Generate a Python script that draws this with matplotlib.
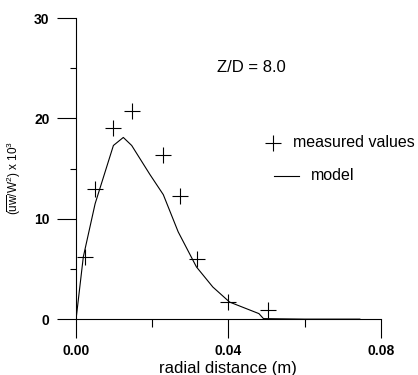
import matplotlib.pyplot as plt
import matplotlib.ticker as mticker

plt.rcParams['font.family'] = ['Liberation Sans', 'DejaVu Sans']
plt.rcParams['mathtext.fontset'] = 'custom'
plt.rcParams['mathtext.rm'] = 'Liberation Sans'
plt.rcParams['mathtext.it'] = 'Liberation Sans'

# measured values (radial distance in m, uw/W^2 x 10^3)
meas_r = [0.0024, 0.0050, 0.0098, 0.0148, 0.0229, 0.0272, 0.0318, 0.0399, 0.0503]
meas_v = [6.2, 13.0, 19.0, 20.7, 16.4, 12.3, 6.0, 1.7, 0.9]

# model curve
model_r = [0.0, 0.0019, 0.0050, 0.0098, 0.0124, 0.0146, 0.0194, 0.0229,
           0.0268, 0.0316, 0.0359, 0.0403, 0.0480, 0.0492, 0.0600, 0.0745]
model_v = [0.0, 6.2, 11.5, 17.3, 18.1, 17.3, 14.4, 12.4,
           8.7, 5.2, 3.2, 1.7, 0.55, 0.05, 0.0, 0.0]

x_ticks = [0.0, 0.04, 0.08]
x_labels = ['0.00', '0.04', '0.08']
y_ticks = [0, 10, 20, 30]

fig = plt.figure(figsize=(4.18, 3.75), dpi=100)
ax = fig.add_axes([0.182, 0.149, 0.729, 0.803])

ax.plot(model_r, model_v, color='black', lw=0.8)
ax.plot(meas_r, meas_v, ls='none', marker='+', color='black', ms=11, mew=0.8)

ax.set_xlim(0, 0.08)
ax.set_ylim(0, 30)
for s in ['top', 'right']:
    ax.spines[s].set_visible(False)
for s in ['left', 'bottom']:
    ax.spines[s].set_linewidth(0.8)

ax.set_xticks(x_ticks)
ax.set_xticklabels(x_labels)
ax.xaxis.set_minor_locator(mticker.MultipleLocator(0.02))
ax.set_yticks(y_ticks)
ax.yaxis.set_minor_locator(mticker.MultipleLocator(5))
ax.tick_params(axis='x', which='major', direction='out', length=14, width=0.8,
               pad=4, labelsize=10)
ax.tick_params(axis='x', which='minor', direction='out', length=6, width=0.8)
ax.tick_params(axis='y', which='major', direction='out', length=14, width=0.8,
               pad=5, labelsize=10)
ax.tick_params(axis='y', which='minor', direction='out', length=4, width=0.8)
for lab in ax.get_xticklabels() + ax.get_yticklabels():
    lab.set_fontweight('bold')

ax.set_xlabel('radial distance (m)', fontsize=12, labelpad=2)
fig.text(0.034, 0.525, r'$(\overline{\mathrm{uw}}/\mathrm{W}^2)$ x 10$^3$',
         rotation=90, ha='center', va='center', fontsize=8.5)

fig.text(0.519, 0.821, 'Z/D = 8.0', fontsize=12, ha='left', va='center')

# legend drawn by hand
fig.add_artist(plt.Line2D([0.653], [0.619], marker='+', color='black',
                          ms=11, mew=0.8))
fig.text(0.700, 0.619, 'measured values', fontsize=11.5, ha='left', va='center')
fig.add_artist(plt.Line2D([0.655, 0.715], [0.530, 0.530], color='black', lw=0.8))
fig.text(0.744, 0.533, 'model', fontsize=11.5, ha='left', va='center')

fig.savefig('out.png', dpi=100)
